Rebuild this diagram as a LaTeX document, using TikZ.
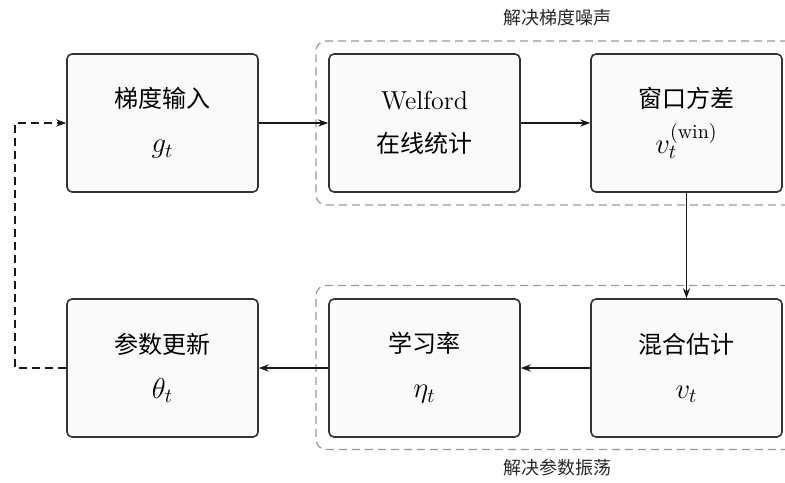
\documentclass[tikz,border=0pt]{standalone}
\usepackage{fontspec}
\newfontfamily\cjk[Scale=0.923]{Noto Sans CJK SC}
\newfontfamily\cjklabel{Noto Sans CJK SC}
\usetikzlibrary{arrows.meta}
\newcommand{\mth}[1]{{\fontsize{14.4}{17}\selectfont$#1$}}
\begin{document}
\begin{tikzpicture}[x=0.5pt,y=-0.5pt,
  box/.style={draw=black!80, fill=gray!4, line width=0.8pt, rounded corners=2.5pt,
    minimum width=95.5pt, minimum height=69pt, align=center, font=\fontsize{13}{15.6}\selectfont\cjk, inner sep=0pt},
  grp/.style={draw=black!40, line width=0.6pt, dash pattern=on 4pt off 2.5pt, rounded corners=5pt,
    minimum width=241pt, minimum height=82pt, inner sep=0pt},
  glabel/.style={font=\small\cjklabel, text=black!85},
  flow/.style={-{Stealth[length=5pt,width=3.6pt]}, line width=0.6pt, draw=black!90},
  fb/.style={-{Stealth[length=5pt,width=3.6pt]}, line width=0.6pt, draw=black!90, dash pattern=on 4pt off 2.5pt}]
\useasboundingbox (0,0) rectangle (785,482);
\node[grp] (g1) at (557,123) {};
\node[grp] (g2) at (557,367.5) {};
\node[glabel] (l1) at (557,18) {解决梯度噪声};
\node[glabel] (l2) at (557,468) {解决参数振荡};
\node[box] (b1) at (162.5,123) {梯度输入\\[7pt]\mth{g_t}};
\node[box] (b2) at (424.5,123) {\rmfamily Welford\\[6pt]在线统计};
\node[box] (b3) at (686.5,123) {窗口方差\\[6pt]\mth{v_t^{(\mathrm{win})}}};
\node[box] (b4) at (162.5,368) {参数更新\\[7pt]\mth{\theta_t}};
\node[box] (b5) at (424.5,368) {学习率\\[7pt]\mth{\eta_t}};
\node[box] (b6) at (686.5,368) {混合估计\\[7pt]\mth{v_t}};
\coordinate (c1) at (15,368);
\draw[flow] (b1) -- (b2);
\draw[flow] (b2) -- (b3);
\draw[flow] (b3) -- (b6);
\draw[flow] (b6) -- (b5);
\draw[flow] (b5) -- (b4);
\draw[fb] (b4.west) -- (c1) |- (b1.west);
\end{tikzpicture}
\end{document}
